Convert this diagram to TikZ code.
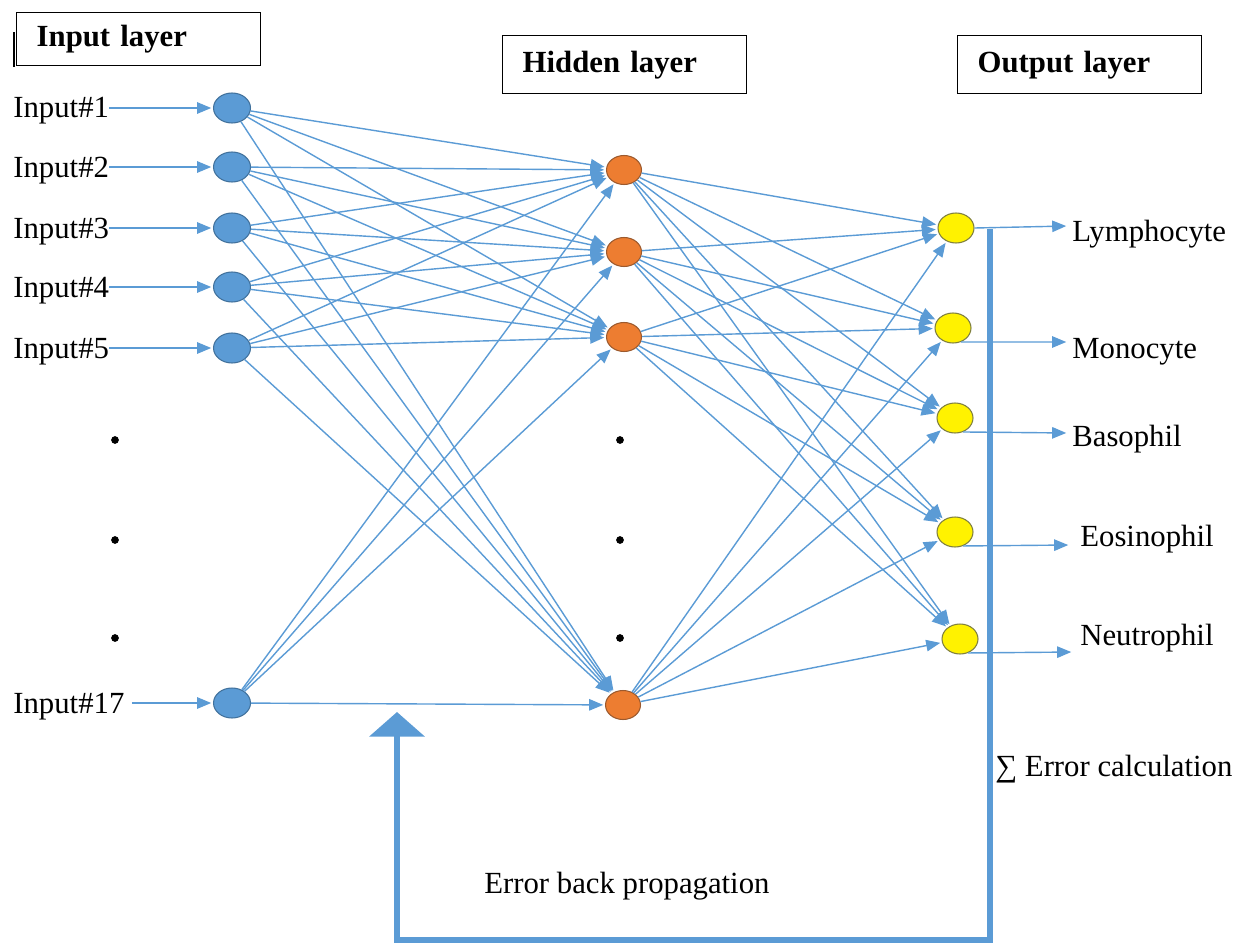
\documentclass[tikz,border=0pt]{standalone}
\usepackage{fontspec}
\setmainfont{Liberation Serif}
\usetikzlibrary{shapes.geometric,arrows.meta}

\definecolor{linkblue}{HTML}{5B9BD5}
\definecolor{inblue}{HTML}{5B9BD5}
\definecolor{inborder}{HTML}{41719C}
\definecolor{hidorange}{HTML}{ED7D31}
\definecolor{hidborder}{HTML}{9C5A2E}
\definecolor{outborder}{HTML}{7F7F3F}

\newcommand{\lblfont}{\fontsize{17.5}{20}\selectfont}

\tikzset{
  conn/.style={draw=linkblue, line width=0.8pt, -{Triangle[length=8pt,width=6.5pt]}, shorten >=1pt},
  innode/.style={ellipse, draw=inborder, line width=0.6pt, fill=inblue, minimum width=0.74cm, minimum height=0.6cm, inner sep=0pt},
  hidnode/.style={ellipse, draw=hidborder, line width=0.6pt, fill=hidorange, minimum width=0.7cm, minimum height=0.58cm, inner sep=0pt},
  outnode/.style={ellipse, draw=outborder, line width=0.6pt, fill=yellow, minimum width=0.72cm, minimum height=0.6cm, inner sep=0pt},
  layerbox/.style={draw, line width=0.8pt, anchor=north west, text width=4.08cm, inner xsep=0.4cm, align=left, font=\lblfont\bfseries},
  lbl/.style={anchor=west, inner sep=0pt, font=\lblfont},
  bar/.style={draw=linkblue, line width=3.4pt}
}

\begin{document}
\begin{tikzpicture}[x=0.02cm, y=-0.02cm]
            \useasboundingbox (0,0) rectangle (1248,943);

            %vrstvy - nadpisy
            \node[layerbox, minimum height=1.06cm] (inbox) at (16,12) {Input layer};
            \node[layerbox, minimum height=1.16cm] (hidbox) at (502,35) {Hidden layer};
            \node[layerbox, minimum height=1.16cm] (outbox) at (957,35) {Output layer};
            \draw[line width=1.2pt] (14,32) -- (14,67);

            %vstupna vrstva
            \node[innode] (i1) at (232,108) {};
            \node[innode] (i2) at (232,167) {};
            \node[innode] (i3) at (232,228) {};
            \node[innode] (i4) at (232,287) {};
            \node[innode] (i5) at (232,348) {};
            \node[innode] (i17) at (232,703) {};
            \node[lbl] (in1) at (13,111) {Input\#1};
            \node[lbl] (in2) at (13,171) {Input\#2};
            \node[lbl] (in3) at (13,232) {Input\#3};
            \node[lbl] (in4) at (13,291) {Input\#4};
            \node[lbl] (in5) at (13,352) {Input\#5};
            \node[lbl] (in17) at (13,707) {Input\#17};
            \draw[conn] (in1.east |- i1) -- (i1);
            \draw[conn] (in2.east |- i2) -- (i2);
            \draw[conn] (in3.east |- i3) -- (i3);
            \draw[conn] (in4.east |- i4) -- (i4);
            \draw[conn] (in5.east |- i5) -- (i5);
            \draw[conn, shorten <=4pt] (in17.east |- i17) -- (i17);
            \fill (115,440) circle (2.2pt) (115,540) circle (2.2pt) (115,638) circle (2.2pt); %bodky

            %skryta vrstva
            \node[hidnode] (h1) at (624,170) {};
            \node[hidnode] (h2) at (624,252) {};
            \node[hidnode] (h3) at (624,337) {};
            \node[hidnode] (h4) at (623,705) {};
            \fill (620,440) circle (2.2pt) (620,540) circle (2.2pt) (620,638) circle (2.2pt); %bodky

            %vystupna vrstva
            \node[outnode] (o1) at (956,228) {};
            \node[outnode] (o2) at (953,328) {};
            \node[outnode] (o3) at (955,418) {};
            \node[outnode] (o4) at (955,532) {};
            \node[outnode] (o5) at (960,639) {};
            \node[lbl] (out1) at (1072,234) {Lymphocyte};
            \node[lbl] (out2) at (1072,352) {Monocyte};
            \node[lbl] (out3) at (1072,439) {Basophil};
            \node[lbl] (out4) at (1080,539) {Eosinophil};
            \node[lbl] (out5) at (1080,638) {Neutrophil};
            \coordinate (t1) at (1068,226);
            \coordinate (t2) at (1068,342);
            \coordinate (t3) at (1068,433);
            \coordinate (t4) at (1070,545);
            \coordinate (t5) at (1073,652);
            \draw[conn] (o1.east) -- (t1);
            \draw[conn] (o2.-60) -- (t2);
            \draw[conn] (o3.-60) -- (t3);
            \draw[conn] (o4.-60) -- (t4);
            \draw[conn] (o5.-60) -- (t5);

            %spojenia vstup - skryta
            \path (i1) edge[conn] (h1) edge[conn] (h2) edge[conn] (h3) edge[conn] (h4);
            \path (i2) edge[conn] (h1) edge[conn] (h2) edge[conn] (h3) edge[conn] (h4);
            \path (i3) edge[conn] (h1) edge[conn] (h2) edge[conn] (h3) edge[conn] (h4);
            \path (i4) edge[conn] (h1) edge[conn] (h2) edge[conn] (h3) edge[conn] (h4);
            \path (i5) edge[conn] (h1) edge[conn] (h2) edge[conn] (h3) edge[conn] (h4);
            \path (i17) edge[conn] (h1) edge[conn] (h2) edge[conn] (h3) edge[conn] (h4);

            %spojenia skryta - vystup
            \path (h1) edge[conn] (o1) edge[conn] (o2) edge[conn] (o3) edge[conn] (o4) edge[conn] (o5);
            \path (h2) edge[conn] (o1) edge[conn] (o2) edge[conn] (o3) edge[conn] (o4) edge[conn] (o5);
            \path (h3) edge[conn] (o1) edge[conn] (o2) edge[conn] (o3) edge[conn] (o4) edge[conn] (o5);
            \path (h4) edge[conn] (o1) edge[conn] (o2) edge[conn] (o3) edge[conn] (o4) edge[conn] (o5);

            %chyba - spatne sirenie
            \draw[bar, -{Triangle[length=14pt,width=31pt]}] (990,229) -- (990,940) -- (397,940) -- (397,712);
            \node[lbl] (errcalc) at (995,769) {∑ Error calculation};
            \node[lbl] (backprop) at (484,886) {Error back propagation};
        \end{tikzpicture}
\end{document}
